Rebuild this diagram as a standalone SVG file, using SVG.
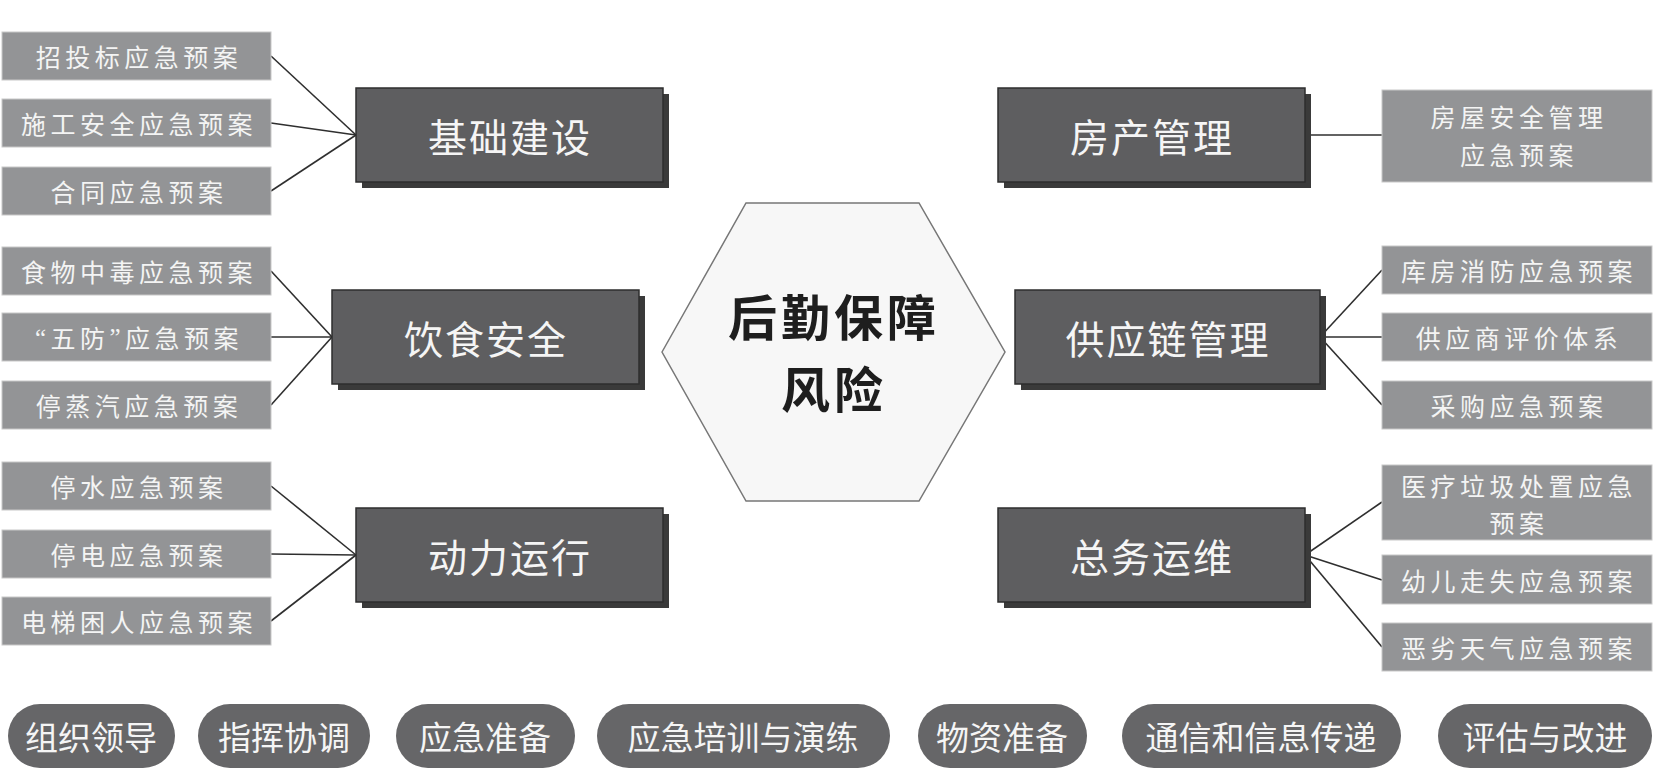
<svg xmlns="http://www.w3.org/2000/svg" width="1655" height="770" viewBox="0 0 1655 770">
<style>
.leaf{fill:#939496;stroke:#c8c8c8;stroke-width:1}
.lt{font-family:"Noto Sans CJK SC","Liberation Sans",sans-serif;font-size:25px;fill:#f4f4f4;text-anchor:middle;dominant-baseline:central;letter-spacing:4.5px}
.q{font-family:"Liberation Serif",serif}
.box{fill:#5e5e60;stroke:#2e2e2e;stroke-width:1.5}
.sh{fill:#3a3a3a}
.bt{font-family:"Noto Sans CJK SC","Liberation Sans",sans-serif;font-size:39px;fill:#f5f5f5;text-anchor:middle;dominant-baseline:central;letter-spacing:2px}
.pill{fill:#666668}
.pt{font-family:"Noto Sans CJK SC","Liberation Sans",sans-serif;font-size:33px;fill:#f5f5f5;text-anchor:middle;dominant-baseline:central}
.ct{font-family:"Noto Sans CJK SC","Liberation Sans",sans-serif;font-size:49px;font-weight:bold;fill:#1e1e1e;text-anchor:middle;dominant-baseline:central;letter-spacing:4px}
.con line{stroke:#2f2f2f;stroke-width:1.6}
</style>
<rect width="1655" height="770" fill="#ffffff"/>
<g class="con" id="connectors">
<line x1="271" y1="56" x2="356" y2="135"/>
<line x1="271" y1="123" x2="356" y2="135"/>
<line x1="271" y1="191" x2="356" y2="135"/>
<line x1="271" y1="271" x2="332" y2="337"/>
<line x1="271" y1="337" x2="332" y2="337"/>
<line x1="271" y1="405" x2="332" y2="337"/>
<line x1="271" y1="486" x2="356" y2="555"/>
<line x1="271" y1="554" x2="356" y2="555"/>
<line x1="271" y1="621" x2="356" y2="555"/>
<line x1="1305" y1="135" x2="1382" y2="135"/>
<line x1="1320" y1="337" x2="1382" y2="270"/>
<line x1="1320" y1="337" x2="1382" y2="337"/>
<line x1="1320" y1="337" x2="1382" y2="405"/>
<line x1="1305" y1="555" x2="1382" y2="502"/>
<line x1="1305" y1="555" x2="1382" y2="580"/>
<line x1="1305" y1="555" x2="1382" y2="647"/>
</g>
<g id="center">
<polygon points="662,352 746,203 919,203 1005,352 919,501 746,501" fill="#f7f7f7" stroke="#777" stroke-width="1.5"/>
<text class="ct" x="834" y="314">后勤保障</text>
<text class="ct" x="834" y="386">风险</text>
</g>
<g id="b1"><rect class="sh" x="362" y="94" width="307" height="94"/><rect class="box" x="356" y="88" width="307" height="94"/><text class="bt" x="510" y="135">基础建设</text></g>
<g id="b2"><rect class="sh" x="338" y="296" width="307" height="94"/><rect class="box" x="332" y="290" width="307" height="94"/><text class="bt" x="486" y="337">饮食安全</text></g>
<g id="b3"><rect class="sh" x="362" y="514" width="307" height="94"/><rect class="box" x="356" y="508" width="307" height="94"/><text class="bt" x="510" y="555">动力运行</text></g>
<g id="b4"><rect class="sh" x="1004" y="94" width="307" height="94"/><rect class="box" x="998" y="88" width="307" height="94"/><text class="bt" x="1152" y="135">房产管理</text></g>
<g id="b5"><rect class="sh" x="1021" y="296" width="305" height="94"/><rect class="box" x="1015" y="290" width="305" height="94"/><text class="bt" x="1168" y="337">供应链管理</text></g>
<g id="b6"><rect class="sh" x="1004" y="514" width="307" height="94"/><rect class="box" x="998" y="508" width="307" height="94"/><text class="bt" x="1152" y="555">总务运维</text></g>
<g id="l1"><rect class="leaf" x="2" y="32" width="269" height="48"/><text class="lt" x="139" y="56">招投标应急预案</text></g>
<g id="l2"><rect class="leaf" x="2" y="99" width="269" height="48"/><text class="lt" x="139" y="123">施工安全应急预案</text></g>
<g id="l3"><rect class="leaf" x="2" y="167" width="269" height="48"/><text class="lt" x="139" y="191">合同应急预案</text></g>
<g id="l4"><rect class="leaf" x="2" y="247" width="269" height="48"/><text class="lt" x="139" y="271">食物中毒应急预案</text></g>
<g id="l5"><rect class="leaf" x="2" y="313" width="269" height="48"/><text class="lt" x="139" y="337"><tspan class="q">“</tspan>五防<tspan class="q">”</tspan>应急预案</text></g>
<g id="l6"><rect class="leaf" x="2" y="381" width="269" height="48"/><text class="lt" x="139" y="405">停蒸汽应急预案</text></g>
<g id="l7"><rect class="leaf" x="2" y="462" width="269" height="48"/><text class="lt" x="139" y="486">停水应急预案</text></g>
<g id="l8"><rect class="leaf" x="2" y="530" width="269" height="48"/><text class="lt" x="139" y="554">停电应急预案</text></g>
<g id="l9"><rect class="leaf" x="2" y="597" width="269" height="48"/><text class="lt" x="139" y="621">电梯困人应急预案</text></g>
<g id="r1"><rect class="leaf" x="1382" y="90" width="270" height="92"/><text class="lt" x="1519" y="116">房屋安全管理</text><text class="lt" x="1519" y="154">应急预案</text></g>
<g id="r2"><rect class="leaf" x="1382" y="246" width="270" height="48"/><text class="lt" x="1519" y="270">库房消防应急预案</text></g>
<g id="r3"><rect class="leaf" x="1382" y="313" width="270" height="48"/><text class="lt" x="1519" y="337">供应商评价体系</text></g>
<g id="r4"><rect class="leaf" x="1382" y="381" width="270" height="48"/><text class="lt" x="1519" y="405">采购应急预案</text></g>
<g id="r5"><rect class="leaf" x="1382" y="465" width="270" height="75"/><text class="lt" x="1519" y="485">医疗垃圾处置应急</text><text class="lt" x="1519" y="522">预案</text></g>
<g id="r6"><rect class="leaf" x="1382" y="555" width="270" height="49"/><text class="lt" x="1519" y="580">幼儿走失应急预案</text></g>
<g id="r7"><rect class="leaf" x="1382" y="623" width="270" height="48"/><text class="lt" x="1519" y="647">恶劣天气应急预案</text></g>
<g id="p1"><rect class="pill" x="8" y="704" width="167" height="64" rx="32"/><text class="pt" x="91" y="736">组织领导</text></g>
<g id="p2"><rect class="pill" x="198" y="704" width="172" height="64" rx="32"/><text class="pt" x="284" y="736">指挥协调</text></g>
<g id="p3"><rect class="pill" x="396" y="704" width="179" height="64" rx="32"/><text class="pt" x="485" y="736">应急准备</text></g>
<g id="p4"><rect class="pill" x="597" y="704" width="293" height="64" rx="32"/><text class="pt" x="743" y="736">应急培训与演练</text></g>
<g id="p5"><rect class="pill" x="918" y="704" width="169" height="64" rx="32"/><text class="pt" x="1002" y="736">物资准备</text></g>
<g id="p6"><rect class="pill" x="1122" y="704" width="279" height="64" rx="32"/><text class="pt" x="1261" y="736">通信和信息传递</text></g>
<g id="p7"><rect class="pill" x="1438" y="704" width="214" height="64" rx="32"/><text class="pt" x="1545" y="736">评估与改进</text></g>
</svg>
